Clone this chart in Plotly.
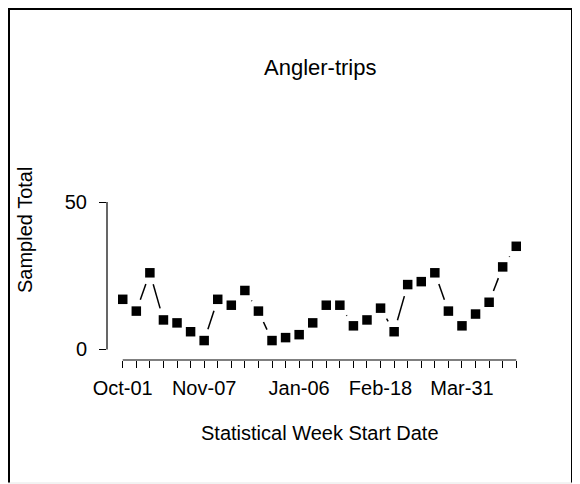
import math
import plotly.graph_objects as go

# weekly sampled angler-trips, 30 statistical weeks
week_index = list(range(30))
sampled_total = [17, 13, 26, 10, 9, 6, 3, 17, 15, 20,
                 13, 3, 4, 5, 9, 15, 15, 8, 10, 14,
                 6, 22, 23, 26, 13, 8, 12, 16, 28, 35]

# only some week labels survive (R drops the overlapping ones)
label_weeks = [0, 6, 13, 19, 25]
label_text = ["Oct-01", "Nov-07", "Jan-06", "Feb-18", "Mar-31"]
y_ticks = [0, 50]

# the page body adds an 8px margin, so the figure is 8px smaller
OFF = 8
W, H = 580 - OFF, 484 - OFF
L, R, T, B = 99, 48, 96, 124
x_range = [-1.16, 30.16]
y_range = [-3.6, 83.3]
FONT = "Liberation Sans, Arial, sans-serif"

# R type="b": line segments stop short of each point
px_x = (W - L - R) / (x_range[1] - x_range[0])
px_y = (H - T - B) / (y_range[1] - y_range[0])
gap = 12
seg_x, seg_y = [], []
for i in range(len(week_index) - 1):
    x0, y0 = week_index[i], sampled_total[i]
    x1, y1 = week_index[i + 1], sampled_total[i + 1]
    dx, dy = (x1 - x0) * px_x, (y1 - y0) * px_y
    d = math.hypot(dx, dy)
    if d <= 2 * gap:
        continue
    f = gap / d
    seg_x += [x0 + (x1 - x0) * f, x1 - (x1 - x0) * f, None]
    seg_y += [y0 + (y1 - y0) * f, y1 - (y1 - y0) * f, None]

fig = go.Figure()
fig.add_trace(go.Scatter(x=seg_x, y=seg_y, mode="lines",
                         line=dict(color="black", width=1.5),
                         hoverinfo="skip", showlegend=False))
fig.add_trace(go.Scatter(x=week_index, y=sampled_total, mode="markers",
                         marker=dict(symbol="square", size=9.5, color="black"),
                         showlegend=False))

ticktext = [label_text[label_weeks.index(i)] if i in label_weeks else ""
            for i in week_index]

fig.update_xaxes(range=x_range, showgrid=False, zeroline=False, showline=False,
                 tickmode="array", tickvals=week_index, ticktext=ticktext,
                 ticks="outside", ticklen=7, tickwidth=1.2, tickcolor="black",
                 ticklabelstandoff=3,
                 tickfont=dict(family=FONT, size=20, color="black"))
fig.update_yaxes(range=y_range, showgrid=False, zeroline=False, showline=False,
                 tickmode="array", tickvals=y_ticks,
                 ticks="outside", ticklen=7, tickwidth=1.2, tickcolor="black",
                 ticklabelstandoff=8,
                 tickfont=dict(family=FONT, size=20, color="black"))

shapes = [
    # axis lines only span the first..last tick, like base R
    dict(type="line", xref="x", yref="paper", x0=week_index[0], x1=week_index[-1],
         y0=0, y1=0, line=dict(color="black", width=1.2)),
    dict(type="line", xref="paper", yref="y", x0=0, x1=0,
         y0=y_ticks[0], y1=y_ticks[-1], line=dict(color="black", width=1.2)),
]

# positions below are page pixels
pw, ph = W - L - R, H - T - B
def px(xp):
    return (xp - OFF - L) / pw
def py(yp):
    return (H - B - (yp - OFF)) / ph
shapes += [
    dict(type="line", xref="paper", yref="paper", x0=px(9), x1=px(9),
         y0=py(8), y1=py(483), line=dict(color="black", width=2)),
    dict(type="line", xref="paper", yref="paper", x0=px(8), x1=px(573),
         y0=py(9), y1=py(9), line=dict(color="black", width=2)),
    dict(type="line", xref="paper", yref="paper", x0=px(572), x1=px(572),
         y0=py(8), y1=py(483), line=dict(color="black", width=2)),
    dict(type="line", xref="paper", yref="paper", x0=px(8), x1=px(580),
         y0=py(483), y1=py(483), line=dict(color="#e6e6e6", width=1)),
]

fig.update_layout(
    width=W, height=H,
    margin=dict(l=L, r=R, t=T, b=B),
    paper_bgcolor="white", plot_bgcolor="white",
    shapes=shapes,
    annotations=[
        dict(text="Angler-trips", xref="paper", yref="paper", x=0.5, y=py(67),
             showarrow=False, xanchor="center", yanchor="middle",
             font=dict(family=FONT, size=22, color="black")),
        dict(text="Statistical Week Start Date", xref="paper", yref="paper",
             x=0.5, y=py(433), showarrow=False, xanchor="center", yanchor="middle",
             font=dict(family=FONT, size=20, color="black")),
        dict(text="Sampled Total", xref="paper", yref="paper",
             x=px(25), y=py(230), showarrow=False, textangle=-90,
             xanchor="center", yanchor="middle",
             font=dict(family=FONT, size=20, color="black")),
    ],
)

fig.write_html("out.html")
